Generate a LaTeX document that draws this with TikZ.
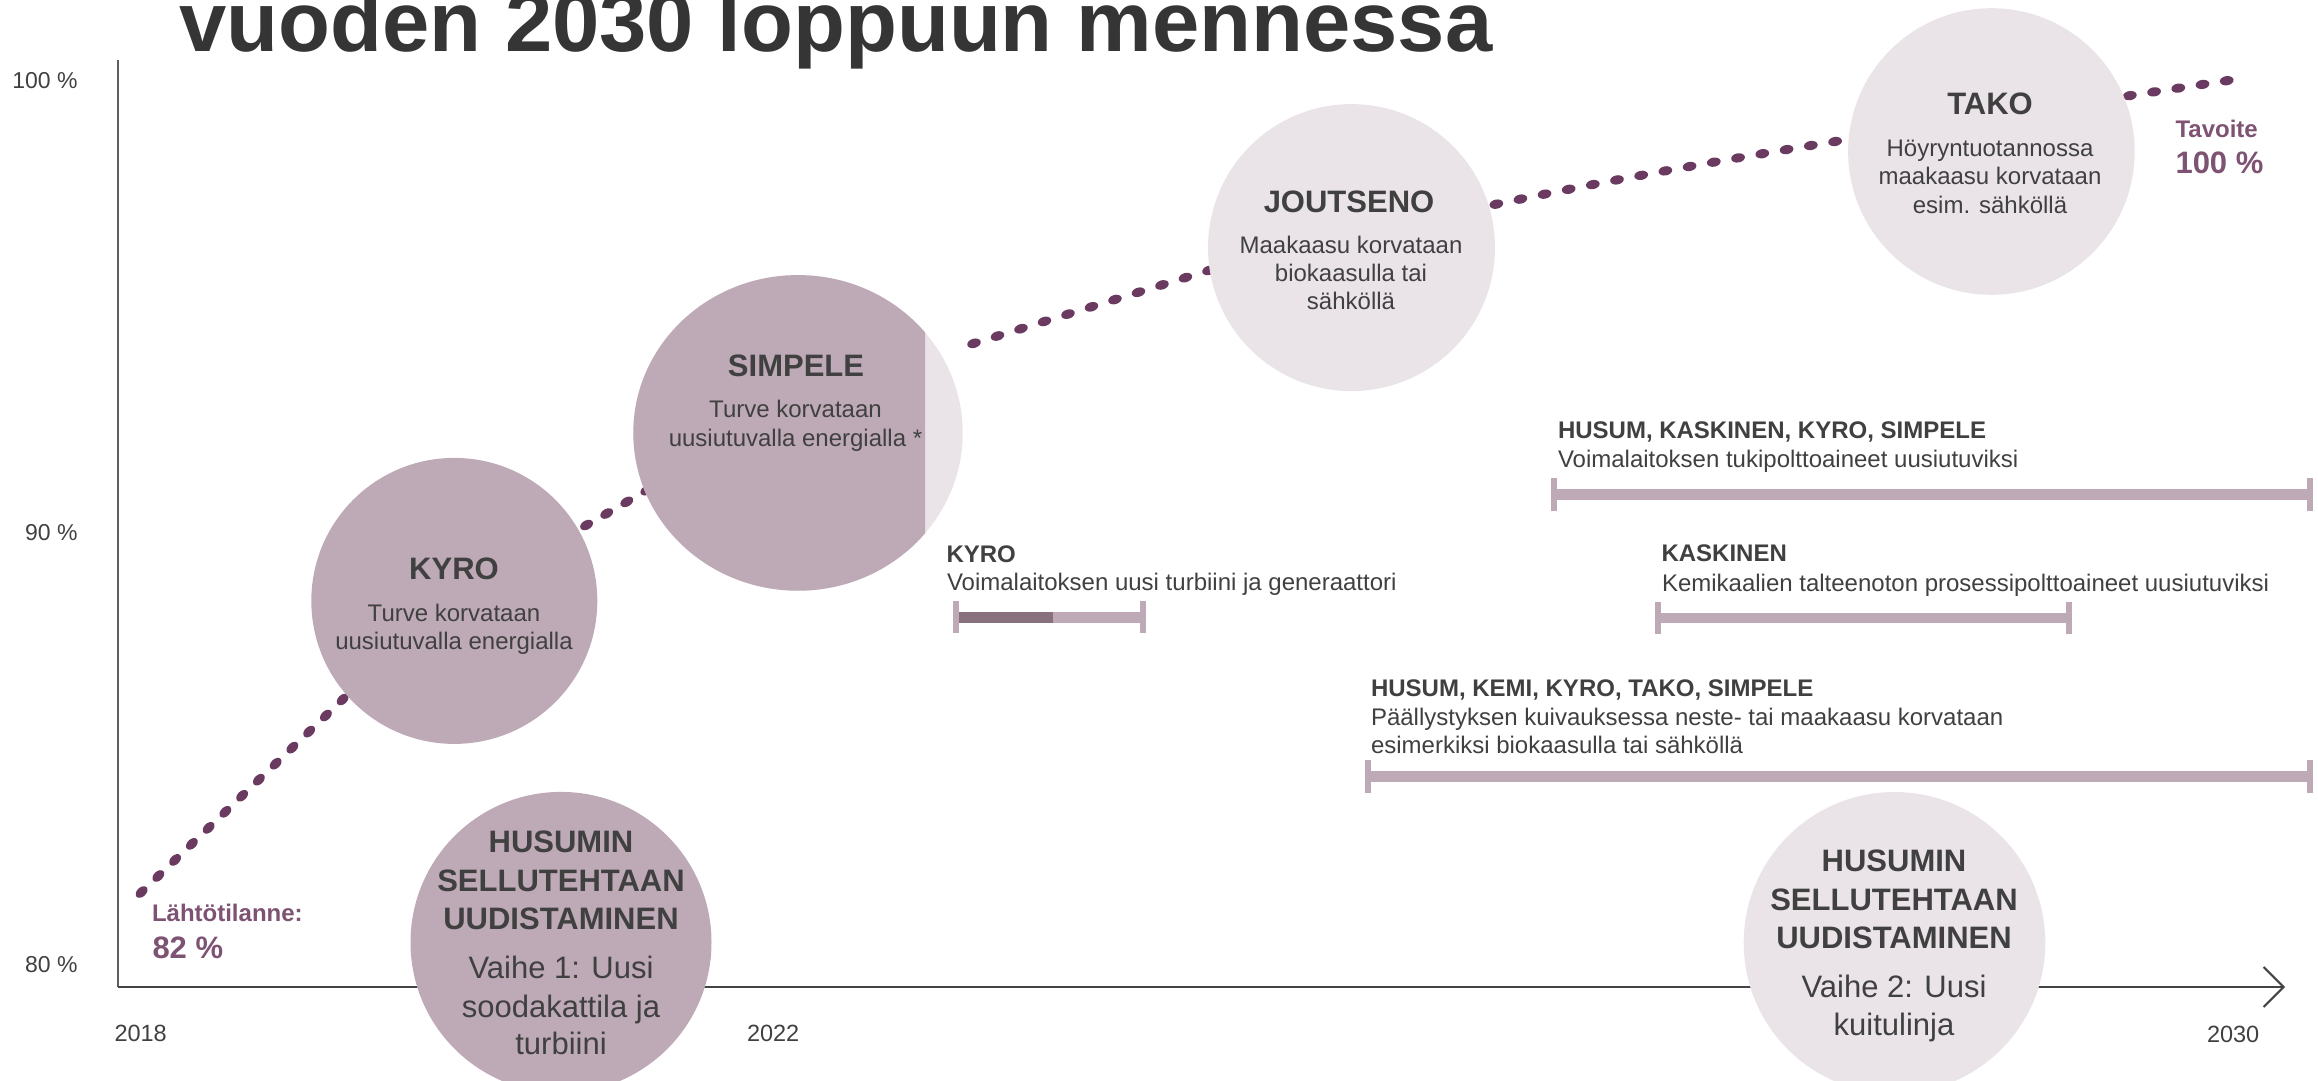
\documentclass[tikz,border=0pt]{standalone}
\usepackage{fontspec}
\setmainfont{Liberation Sans}
\usetikzlibrary{arrows.meta,shapes.geometric,decorations.markings}
\definecolor{mauve}{HTML}{BEA9B6}
\definecolor{mauvelight}{HTML}{EAE4E9}
\definecolor{mauvedark}{HTML}{86717D}
\definecolor{dotc}{HTML}{6A3A60}
\definecolor{purpletxt}{HTML}{7D5273}
\definecolor{txtc}{HTML}{404040}
\definecolor{titlec}{HTML}{353535}
\definecolor{yaxisc}{HTML}{5E5E5E}
\definecolor{xaxisc}{HTML}{444444}
\begin{document}
\begin{tikzpicture}[x=1pt,y=-1pt,
  txt/.style={inner sep=0pt,outer sep=0pt,text=txtc},
  ctitle/.style={txt,anchor=base,font=\fontsize{31}{36}\selectfont\bfseries},
  cbody/.style={txt,anchor=base,font=\fontsize{24}{28}\selectfont},
  hbody/.style={txt,anchor=base,font=\fontsize{31}{36}\selectfont},
  btitle/.style={txt,anchor=base west,font=\fontsize{24}{28}\selectfont\bfseries},
  bbody/.style={txt,anchor=base west,font=\fontsize{24}{28}\selectfont},
  ylab/.style={txt,anchor=base east,font=\fontsize{23}{27}\selectfont},
  xlab/.style={txt,anchor=base west,font=\fontsize{23.5}{27}\selectfont},
  goal/.style={inner sep=0pt,outer sep=0pt,anchor=base west,text=purpletxt,font=\fontsize{24}{28}\selectfont\bfseries},
  goalbig/.style={goal,font=\fontsize{31}{36}\selectfont\bfseries},
  darkcirc/.style={circle,fill=mauve,draw=none,inner sep=0pt},
  lightcirc/.style={circle,fill=mauvelight,draw=none,inner sep=0pt},
  dotmarks/.style={decoration={markings,
      mark=between positions 0 and 1 step #1 with {\fill[dotc] (0,0) ellipse [x radius=6.9pt,y radius=4.6pt];}},
      decorate},
  barline/.style={draw=mauve,line width=10.6pt},
  barpart/.style={draw=mauvedark,line width=10.8pt},
  bartick/.style={draw=mauve,line width=6pt},
]
\useasboundingbox (0,0) rectangle (2318,1081);
\clip (0,0) rectangle (2318,1081);

% title (partly cut by the top edge)
\node[anchor=base west,inner sep=0pt,text=titlec,font=\fontsize{85}{90}\selectfont\bfseries] (title) at (179,52) {vuoden 2030 loppuun mennessa};

% axes
\coordinate (ytop) at (117.7,60.5);
\coordinate (orig) at (117.7,987);
\coordinate (xend) at (2285,987);
\draw[yaxisc,line width=1.7pt] (ytop) -- (orig);
\draw[xaxisc,line width=2pt,-{Straight Barb[length=20pt,width=40pt]}] (orig) -- (xend);

% axis labels
\node[ylab] (y100) at (77.5,88.5) {100 \%};
\node[ylab] (y90) at (77.5,540.8) {90 \%};
\node[ylab] (y80) at (77.5,972.4) {80 \%};
\node[xlab] (x2018) at (114.5,1041.7) {2018};
\node[xlab] (x2022) at (747,1041.7) {2022};
\node[xlab] (x2030) at (2207,1042) {2030};

% dotted progress curve (three pieces, joined under the circles)
\coordinate (d0) at (141.6,892);
\coordinate (d5) at (974,343.3);
\coordinate (d8) at (1900,131);
\coordinate (d9) at (2226.7,80.7);
\path[dotmarks=23.2pt] (d0) -- (400,644.6) .. controls (460,587.2) and (540,552) .. (599,518)
  -- (700,459.4);
\path[dotmarks=24.6pt] (d5) -- (1260,254.5) .. controls (1320,235.9) and (1400,225.2) .. (1460,212)
  .. controls (1607,179.7) and (1753,154.5) .. (d8);
\path[dotmarks=24.5pt] (d9) -- (d8);

% circles
\node[darkcirc,minimum size=286pt] (kyro) at (454.3,600.9) {};
\node[ellipse,fill=mauvelight,draw=none,inner sep=0pt,minimum width=329.4pt,minimum height=315.6pt] (simpele) at (798,432.9) {};
\begin{scope}
  \clip (600,260) rectangle (925,610);
  \node[ellipse,fill=mauve,draw=none,inner sep=0pt,minimum width=329.4pt,minimum height=315.6pt] (simpeledark) at (798,432.9) {};
\end{scope}
\node[lightcirc,minimum size=287pt] (joutseno) at (1351.5,247.6) {};
\node[lightcirc,minimum size=286.6pt] (tako) at (1991.4,151.5) {};
\node[darkcirc,minimum size=301pt] (husum1) at (561,942.4) {};
\node[lightcirc,minimum size=301.6pt] (husum2) at (1894.5,942.8) {};

% circle texts
\node[ctitle] (kyroT) at (454,579.5) {KYRO};
\node[cbody] (kyroA) at (454,621) {Turve korvataan};
\node[cbody] (kyroB) at (454,649) {uusiutuvalla energialla};

\node[ctitle] (simT) at (796,376.7) {SIMPELE};
\node[cbody] (simA) at (795.5,417.7) {Turve korvataan};
\node[cbody] (simB) at (795.5,446) {uusiutuvalla energialla *};

\node[ctitle] (jouT) at (1349,212.4) {JOUTSENO};
\node[cbody] (jouA) at (1351,253) {Maakaasu korvataan};
\node[cbody] (jouB) at (1351,281.5) {biokaasulla tai};
\node[cbody] (jouC) at (1351,309.5) {sähköllä};

\node[ctitle] (takoT) at (1990,114.8) {TAKO};
\node[cbody] (takoA) at (1990,156.1) {Höyryntuotannossa};
\node[cbody] (takoB) at (1990,184.8) {maakaasu korvataan};
\node[cbody] (takoC) at (1990,213.2) {esim. sähköllä};

\node[ctitle] (h1a) at (561,852) {HUSUMIN};
\node[ctitle] (h1b) at (561,891.6) {SELLUTEHTAAN};
\node[ctitle] (h1c) at (561,929.8) {UUDISTAMINEN};
\node[hbody] (h1d) at (561,978) {Vaihe 1: Uusi};
\node[hbody] (h1e) at (561,1017) {soodakattila ja};
\node[hbody] (h1f) at (561,1054) {turbiini};

\node[ctitle] (h2a) at (1894,871.6) {HUSUMIN};
\node[ctitle] (h2b) at (1894,910.5) {SELLUTEHTAAN};
\node[ctitle] (h2c) at (1894,948.3) {UUDISTAMINEN};
\node[hbody] (h2d) at (1894,997.6) {Vaihe 2: Uusi};
\node[hbody] (h2e) at (1894,1035.4) {kuitulinja};

% start and goal labels
\node[goal] (startL) at (152,921.6) {Lähtötilanne:};
\node[goalbig] (startV) at (152.5,958.3) {82 \%};
\node[goal] (goalL) at (2175.5,137) {Tavoite};
\node[goalbig] (goalV) at (2175.5,173) {100 \%};

% bar 1
\node[btitle] (b1t) at (1558,438.2) {HUSUM, KASKINEN, KYRO, SIMPELE};
\node[bbody] (b1s) at (1558,467) {Voimalaitoksen tukipolttoaineet uusiutuviksi};
\coordinate (b1l) at (1553.7,494.6);
\coordinate (b1r) at (2309.8,494.6);
\draw[barline] (b1l) -- (b1r);
\draw[bartick] ([yshift=16.2pt]b1l) -- ([yshift=-16.2pt]b1l);
\draw[bartick] ([yshift=16.2pt]b1r) -- ([yshift=-16.2pt]b1r);

% bar 2
\node[btitle] (b2t) at (946.5,562.3) {KYRO};
\node[bbody] (b2s) at (947,590.7) {Voimalaitoksen uusi turbiini ja generaattori};
\coordinate (b2l) at (956.2,617.2);
\coordinate (b2m) at (1053.3,617.2);
\coordinate (b2r) at (1142.9,617.2);
\draw[barline] (b2l) -- (b2r);
\draw[barpart] (b2l) -- (b2m);
\draw[bartick] ([yshift=16.2pt]b2l) -- ([yshift=-16.2pt]b2l);
\draw[bartick] ([yshift=16.2pt]b2r) -- ([yshift=-16.2pt]b2r);

% bar 3
\node[btitle] (b3t) at (1661.5,561) {KASKINEN};
\node[bbody] (b3s) at (1662,591) {Kemikaalien talteenoton prosessipolttoaineet uusiutuviksi};
\coordinate (b3l) at (1658,617.8);
\coordinate (b3r) at (2068.5,617.8);
\draw[barline] (b3l) -- (b3r);
\draw[bartick] ([yshift=16.2pt]b3l) -- ([yshift=-16.2pt]b3l);
\draw[bartick] ([yshift=16.2pt]b3r) -- ([yshift=-16.2pt]b3r);

% bar 4
\node[btitle] (b4t) at (1371,696.4) {HUSUM, KEMI, KYRO, TAKO, SIMPELE};
\node[bbody] (b4s) at (1371,725.3) {Päällystyksen kuivauksessa neste- tai maakaasu korvataan};
\node[bbody] (b4u) at (1371,753.8) {esimerkiksi biokaasulla tai sähköllä};
\coordinate (b4l) at (1367.5,776.4);
\coordinate (b4r) at (2309.8,776.4);
\draw[barline] (b4l) -- (b4r);
\draw[bartick] ([yshift=16.2pt]b4l) -- ([yshift=-16.2pt]b4l);
\draw[bartick] ([yshift=16.2pt]b4r) -- ([yshift=-16.2pt]b4r);
\end{tikzpicture}
\end{document}
